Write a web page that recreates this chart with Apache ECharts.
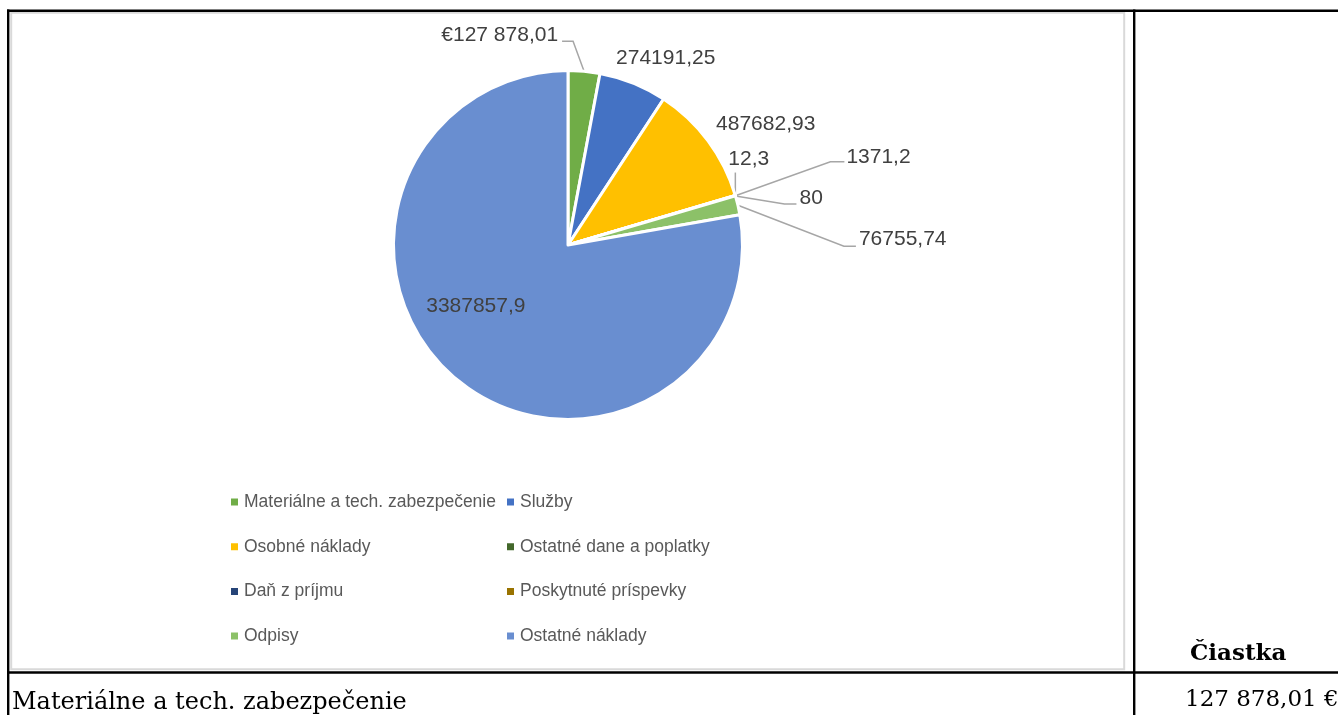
<!DOCTYPE html>
<html>
<head>
<meta charset="utf-8">
<script src="https://cdn.jsdelivr.net/npm/echarts@6/dist/echarts.min.js"></script>
<style>
html,body{margin:0;padding:0;background:#fff;}
#chart{width:1338px;height:715px;}
</style>
</head>
<body>
<div id="chart"></div>
<script>
// ---- data ----
const categories = [
  'Materiálne a tech. zabezpečenie',
  'Služby',
  'Osobné náklady',
  'Ostatné dane a poplatky',
  'Daň z príjmu',
  'Poskytnuté príspevky',
  'Odpisy',
  'Ostatné náklady'
];
const values = [127878.01, 274191.25, 487682.93, 12.3, 1371.2, 80, 76755.74, 3387857.9];
const colors = ['#70AD47', '#4472C4', '#FFC000', '#43682B', '#264478', '#997300', '#8CC168', '#698ED0'];
const legendCol1 = ['Materiálne a tech. zabezpečenie', 'Osobné náklady', 'Daň z príjmu', 'Odpisy'];
const legendCol2 = ['Služby', 'Ostatné dane a poplatky', 'Poskytnuté príspevky', 'Ostatné náklady'];
const tableHeader = 'Čiastka';
const tableRowLabel = 'Materiálne a tech. zabezpečenie';
const tableRowValue = '127 878,01 €';

// ---- label placement relative to the slice's edge anchor (style, not data) ----
const labelPlacement = [
  {dx: -26, dy: -36, align: 'right', line: [[-11, -30], [-22, -30]]},
  {dx: -17, dy: -25, align: 'left', line: null},
  {dx: 8, dy: -17, align: 'left', line: null},
  {dx: -7, dy: -36, align: 'left', line: [[0, -12], [0, -23]]},
  {dx: 111, dy: -39, align: 'left', line: [[95, -34], [109, -34]]},
  {dx: 64, dy: 2, align: 'left', line: [[49, 8], [61, 8]]},
  {dx: 121, dy: 34, align: 'left', line: [[106, 41], [118, 41]]},
  {dx: 20, dy: -72, align: 'center', line: null}
];

function fmtLabel(v, i) {
  if (i === 0) {
    const parts = v.toFixed(2).split('.');
    const intPart = parts[0].replace(/\B(?=(\d{3})+(?!\d))/g, ' ');
    return '€' + intPart + ',' + parts[1];
  }
  return String(v).replace('.', ',');
}

const chart = echarts.init(document.getElementById('chart'), null, {renderer: 'canvas'});

const pieData = categories.map((c, i) => ({
  name: c,
  value: values[i],
  itemStyle: {color: colors[i]}
}));

const legendBase = {
  orient: 'vertical',
  top: 492,
  padding: 0,
  icon: 'rect',
  itemWidth: 9,
  itemHeight: 9,
  itemGap: 24.7,
  selectedMode: false,
  textStyle: {fontFamily: 'Liberation Sans', fontSize: 17.5, color: '#595959', lineHeight: 20}
};

const BLACK = '#000000';
const SERIF = '"DejaVu Serif"';
const option = {
  backgroundColor: '#ffffff',
  animation: false,
  color: colors,
  legend: [
    Object.assign({}, legendBase, {left: 229, data: legendCol1}),
    Object.assign({}, legendBase, {left: 505, data: legendCol2})
  ],
  graphic: [
    // chart area light border
    {type: 'rect', shape: {x: 11.2, y: 12.8, width: 1113, height: 656.4}, style: {fill: 'none', stroke: '#D9D9D9', lineWidth: 2}, z: -1},
    // table lines
    {type: 'line', shape: {x1: 7, y1: 10.8, x2: 1338, y2: 10.8}, style: {stroke: BLACK, lineWidth: 2.4}},
    {type: 'line', shape: {x1: 8.2, y1: 9.6, x2: 8.2, y2: 715}, style: {stroke: BLACK, lineWidth: 2.4}},
    {type: 'line', shape: {x1: 1134.2, y1: 9.6, x2: 1134.2, y2: 715}, style: {stroke: BLACK, lineWidth: 2.4}},
    {type: 'line', shape: {x1: 7, y1: 672.5, x2: 1338, y2: 672.5}, style: {stroke: BLACK, lineWidth: 2.4}},
    // table texts
    {type: 'text', style: {x: 1190, y: 654, text: tableHeader, font: 'bold 23px ' + SERIF, fill: '#000', verticalAlign: 'middle'}},
    {type: 'text', style: {x: 1185, y: 700, text: tableRowValue, font: '23px ' + SERIF, fill: '#000', verticalAlign: 'middle'}},
    {type: 'text', style: {x: 12, y: 702.5, text: tableRowLabel, font: '24px ' + SERIF, fill: '#000', verticalAlign: 'middle'}}
  ],
  series: [{
    type: 'pie',
    center: [568, 245],
    radius: 174.5,
    startAngle: 90,
    clockwise: true,
    avoidLabelOverlap: false,
    minShowLabelAngle: 0,
    itemStyle: {borderColor: '#ffffff', borderWidth: 3},
    emphasis: {disabled: true},
    label: {
      show: true,
      position: 'outside',
      fontFamily: 'Liberation Sans',
      fontSize: 21,
      color: '#404040',
      formatter: p => fmtLabel(p.value, p.dataIndex)
    },
    labelLine: {
      show: true,
      length: 10,
      length2: 10,
      lineStyle: {color: '#A6A6A6', width: 1.5}
    },
    labelLayout: function (params) {
      const pl = labelPlacement[params.dataIndex];
      const pts = params.labelLinePoints;
      if (!pts || !pts.length) return {};
      const a = pts[0];
      let line;
      if (pl.line) {
        line = [[a[0], a[1]]].concat(pl.line.map(d => [a[0] + d[0], a[1] + d[1]]));
      } else {
        line = [[a[0], a[1]], [a[0], a[1]], [a[0], a[1]]];
      }
      return {
        x: a[0] + pl.dx,
        y: a[1] + pl.dy,
        align: pl.align,
        verticalAlign: 'middle',
        labelLinePoints: line
      };
    },
    data: pieData
  }]
};
chart.setOption(option);
</script>
</body>
</html>
